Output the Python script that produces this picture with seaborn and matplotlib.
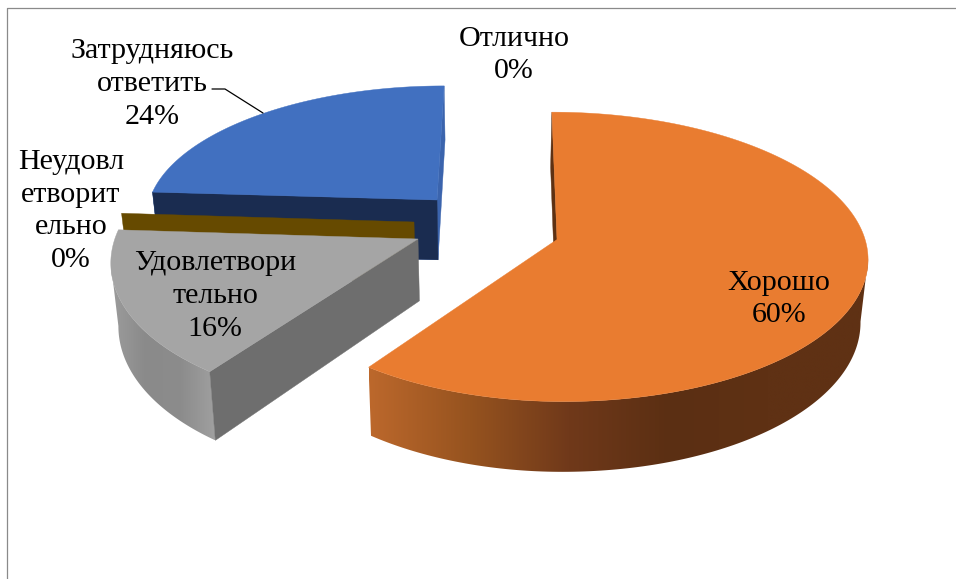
import numpy as np
import matplotlib
matplotlib.use("Agg")
import matplotlib.pyplot as plt
from matplotlib.patches import Polygon
import seaborn as sns

# ---------- data ----------
categories = ["Отлично", "Хорошо", "Удовлетвори\nтельно", "Неудовл\nетворит\nельно", "Затрудняюсь\nответить"]
values = [0, 60, 16, 0, 24]
pct_labels = ["0%", "60%", "16%", "0%", "24%"]

# ---------- styles / layout ----------
face_colors = ["#4472C4", "#E97C30", "#A5A5A5", "#FFC000", "#4170C0"]
flat_wall = ["#1A2C50", "#5E3113", "#6E6E6E", "#664A00", "#1A2C50"]
end_wall = ["#3B64AD", "#5E3113", "#6E6E6E", "#664A00", "#3B64AD"]
apex = [None, (557, 239.5), (418, 239), (414, 222), (437, 200)]
radius_x = [1, 1.0, 1.02, 1.01, 1.0]
radius_y = [1, 1.0, 1.035, 1.01, 0.95]
label_xy = [(514, 55), (779, 299), (215, 296), (71, 211), (152.5, 84)]
draw_order = [4, 3, 2, 1]

XV, YV = 509.0, -950.0     # vanishing point
S, KR, KL = 1.008e-4, 0.259, 0.25
DEPTH_Y, DEPTH_X, XC = 1.052, 0.98, 490.0


def top(i, theta):
    ap = apex[i]
    u, v = np.sin(theta), -np.cos(theta)
    h = 1.0 / (1.0 / (ap[1] - YV) - S * radius_y[i] * v)
    k = np.where(u > 0, KR, KL)
    return XV + h * ((ap[0] - XV) / (ap[1] - YV) + k * radius_x[i] * u), YV + h


def down(x, y):
    return XC + (np.asarray(x) - XC) * DEPTH_X, YV + (np.asarray(y) - YV) * DEPTH_Y


orange_cm = sns.blend_palette(["#BC682C", "#96531F", "#70391A", "#5B2F13", "#5F3114", "#5F3114"], as_cmap=True)
gray_cm = sns.blend_palette(["#9C9C9C", "#8A8A8A", "#8C8C8C", "#A0A0A0"], as_cmap=True)
wall_maps = {1: orange_cm, 2: gray_cm, 4: None, 3: None}

sns.set_theme(style="white")
plt.rcParams["font.family"] = ["Liberation Serif", "DejaVu Serif"]

fig = plt.figure(figsize=(9.56, 5.79), dpi=100, facecolor="white")
ax = fig.add_axes([0, 0, 1, 1])

# frame of the chart area
ax.plot([7.5, 7.5, 956], [579, 7.5, 7.5], color="#8A8A8A", lw=0.9, zorder=1)

edges = np.cumsum([0] + values) / sum(values) * 2 * np.pi
ramp = np.linspace(0, 1, 256).reshape(1, -1)
z = 2
for i in draw_order:
    a0, a1 = edges[i], edges[i + 1]
    ap = apex[i]
    th = np.linspace(a0, a1, 240) if a1 > a0 else np.array([a0, a0])
    x, y = top(i, th)
    bx, by = down(x, y)
    ax_b, ay_b = down(ap[0], ap[1])

    # wall of the starting radius
    color = flat_wall[i] if i in (2, 3) else end_wall[i]
    ax.fill([x[0], bx[0], ax_b, ap[0]], [y[0], by[0], ay_b, ap[1]], color=color, lw=0.3, zorder=z + 1 if i == 2 else z)
    z += 2

    # curved outer wall, shaded left to right
    cm = wall_maps[i]
    if cm is not None:
        s = int(np.argmax(x)) if i == 1 else 0
        e = int(np.argmin(x)) + 1 if i == 2 else len(x)
        poly = Polygon(np.c_[np.r_[x[s:e], bx[s:e][::-1]], np.r_[y[s:e], by[s:e][::-1]]],
                       closed=True, transform=ax.transData, facecolor="none", edgecolor="none")
        ax.add_patch(poly)
        xs = np.r_[x[s:e], bx[s:e]]
        ys = np.r_[y[s:e], by[s:e]]
        im = ax.imshow(ramp, cmap=cm, aspect="auto", interpolation="bilinear", zorder=z - 2,
                       extent=(xs.min(), xs.max(), ys.max(), ys.min()))
        im.set_clip_path(poly)

    # end-of-slice wall for the blue slice (front wall)
    if i == 4:
        ax.fill([x[0], bx[0], ax_b, ap[0]], [y[0], by[0], ay_b, ap[1]], color=flat_wall[i], lw=0.3, zorder=z)
        ax.fill([x[-1], bx[-1], ax_b, ap[0]], [y[-1], by[-1], ay_b, ap[1]], color=end_wall[i], lw=0.3, zorder=z - 1)
    z += 1
    if a1 > a0:
        ax.fill(np.r_[ap[0], x], np.r_[ap[1], y], color=face_colors[i], lw=0.3, zorder=z)
    z += 1

# leader line
ax.plot([212, 225, 263], [89, 89, 113], color="black", lw=0.9, zorder=z)
z += 1

for name, pct, (tx, ty) in zip(categories, pct_labels, label_xy):
    ax.text(tx, ty, f"{name}\n{pct}", ha="center", va="center", fontsize=21.6,
            linespacing=1.33, color="black", zorder=z)

ax.set_xlim(0, 956)
ax.set_ylim(579, 0)
ax.axis("off")
fig.savefig("out.png", dpi=100, facecolor="white")
